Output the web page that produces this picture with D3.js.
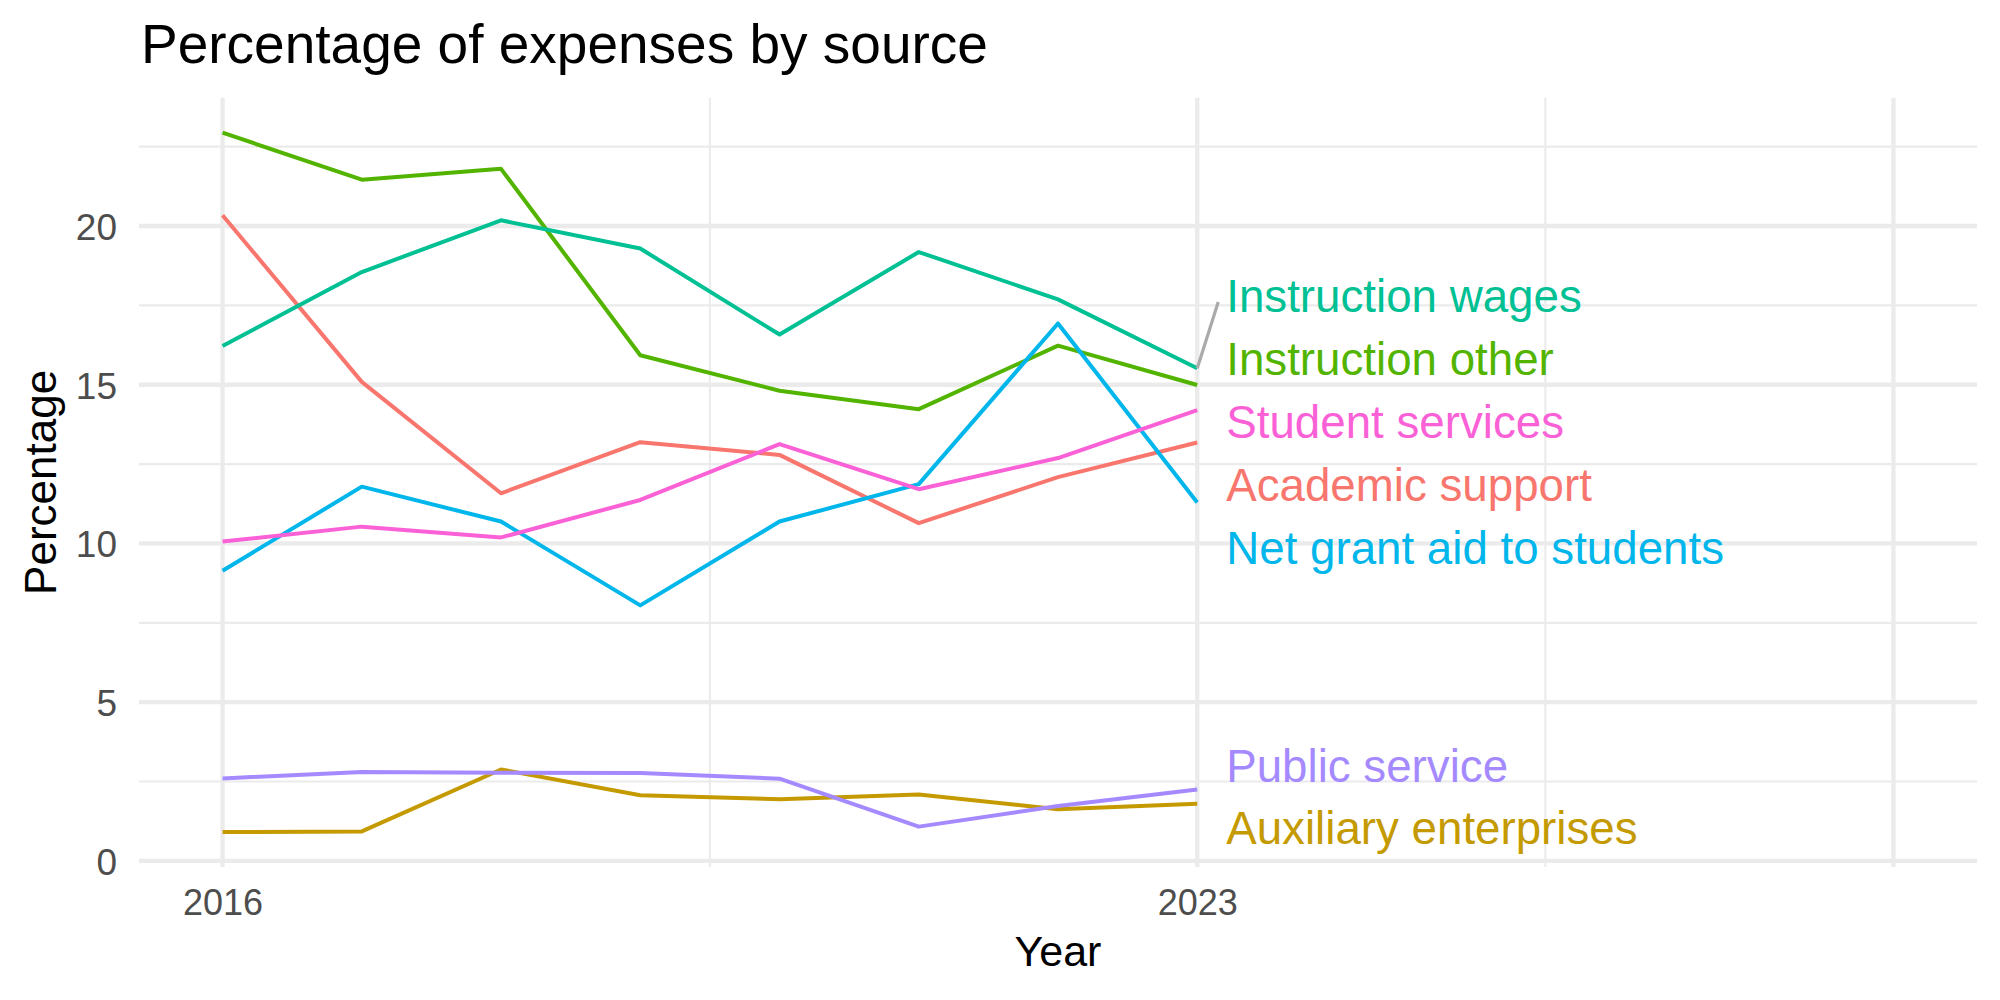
<!DOCTYPE html>
<html>
<head>
<meta charset="utf-8">
<script src="https://cdn.jsdelivr.net/npm/d3@7"></script>
<style>
  body { margin: 0; background: #fff; }
  svg { display: block; }
</style>
</head>
<body>
<svg></svg>
<script>
let width = 2000, height = 1000;

// data
let years = [2016, 2017, 2018, 2019, 2020, 2021, 2022, 2023];
let categories = ["Academic support", "Auxiliary enterprises", "Instruction other",
    "Instruction wages", "Net grant aid to students", "Public service", "Student services"];
let academicSupport  = [20.34, 15.09, 11.58, 13.19, 12.79, 10.64, 12.09, 13.18];
let auxiliary        = [0.91, 0.93, 2.88, 2.07, 1.94, 2.09, 1.63, 1.80];
let instructionOther = [22.94, 21.46, 21.80, 15.93, 14.81, 14.23, 16.23, 14.99];
let instructionWages = [16.22, 18.55, 20.18, 19.29, 16.58, 19.18, 17.69, 15.52];
let netGrantAid      = [9.14, 11.79, 10.69, 8.05, 10.69, 11.87, 16.93, 11.29];
let publicService    = [2.60, 2.80, 2.78, 2.77, 2.59, 1.08, 1.73, 2.25];
let studentServices  = [10.06, 10.53, 10.19, 11.37, 13.13, 11.71, 12.69, 14.20];
let seriesValues = [academicSupport, auxiliary, instructionOther, instructionWages,
    netGrantAid, publicService, studentServices];
let colors = ["#F8766D", "#C49A00", "#53B400", "#00C094", "#00B6EB", "#A58AFF", "#FB61D7"];

let yTicks = [0, 5, 10, 15, 20];
let yMinor = [2.5, 7.5, 12.5, 17.5, 22.5];
let xTicks = [2016, 2023, 2028];
let xTickLabels = ["2016", "2023", ""];
let xMinor = [2019.5, 2025.5];
let xLimitMax = 2028;   // room kept on the right for the labels

let font = "'Liberation Sans', Arial, Helvetica, sans-serif";

let svg = d3.select("svg")
    .attr("width", width)
    .attr("height", height)
    .attr("viewBox", "0 0 " + width + " " + height);

// panel
let pLeft = 139, pRight = 1977, pTop = 97.7, pBottom = 867;

let series = categories.map((c, i) => ({
    name: c, color: colors[i],
    values: years.map((y, j) => ({year: y, value: seriesValues[i][j]}))
}));

let xMin = d3.min(years), xMax = xLimitMax;
let xPad = (xMax - xMin) * 0.05;
let x = d3.scaleLinear().domain([xMin - xPad, xMax + xPad]).range([pLeft, pRight]);

let allVals = seriesValues.flat();
let yMin = d3.min(allVals), yMax = d3.max(allVals);
let yPad = (yMax - yMin) * 0.05;
let y = d3.scaleLinear().domain([yMin - yPad, yMax + yPad]).range([pBottom, pTop]);

// grid
let grid = svg.append("g").attr("id", "grid");
grid.selectAll("line.ymin").data(yMinor).enter().append("line")
    .attr("x1", pLeft).attr("x2", pRight)
    .attr("y1", d => y(d)).attr("y2", d => y(d))
    .attr("stroke", "#EBEBEB").attr("stroke-width", 2.1);
grid.selectAll("line.xmin").data(xMinor).enter().append("line")
    .attr("y1", pTop).attr("y2", pBottom)
    .attr("x1", d => x(d)).attr("x2", d => x(d))
    .attr("stroke", "#EBEBEB").attr("stroke-width", 2.1);
grid.selectAll("line.ymaj").data(yTicks).enter().append("line")
    .attr("x1", pLeft).attr("x2", pRight)
    .attr("y1", d => y(d)).attr("y2", d => y(d))
    .attr("stroke", "#EBEBEB").attr("stroke-width", 4.3);
grid.selectAll("line.xmaj").data(xTicks).enter().append("line")
    .attr("y1", pTop).attr("y2", pBottom)
    .attr("x1", d => x(d)).attr("x2", d => x(d))
    .attr("stroke", "#EBEBEB").attr("stroke-width", 4.3);

// axes
let yAxis = svg.append("g")
    .attr("transform", "translate(" + pLeft + ",0)")
    .call(d3.axisLeft(y).tickValues(yTicks).tickSize(0).tickPadding(22));
yAxis.select(".domain").remove();
yAxis.selectAll("text")
    .attr("dy", "0.36em")
    .attr("fill", "#4D4D4D")
    .style("font-family", font)
    .style("font-size", "37px");

let xAxis = svg.append("g")
    .attr("transform", "translate(0," + pBottom + ")")
    .call(d3.axisBottom(x).tickValues(xTicks).tickFormat((d, i) => xTickLabels[i])
        .tickSize(0).tickPadding(22));
xAxis.select(".domain").remove();
xAxis.selectAll("text")
    .attr("fill", "#4D4D4D")
    .style("font-family", font)
    .style("font-size", "36px");

// lines
let line = d3.line().x(d => x(d.year)).y(d => y(d.value));
svg.append("g").attr("id", "lines")
    .selectAll("path")
    .data(series)
    .enter()
    .append("path")
    .attr("d", d => line(d.values))
    .attr("fill", "none")
    .attr("stroke", d => d.color)
    .attr("stroke-width", 4)
    .attr("stroke-linejoin", "round");

// end labels, pushed apart so they don't overlap
let lastYear = years[years.length - 1];
let spacing = 62.8;
let labels = series.map(s => ({
    name: s.name, color: s.color,
    py: y(s.values[s.values.length - 1].value)
})).sort((a, b) => a.py - b.py);

let clusters = labels.map(l => ({items: [l], mean: l.py}));
let merged = true;
while (merged) {
    merged = false;
    for (let i = 0; i < clusters.length - 1; i++) {
        let a = clusters[i], b = clusters[i + 1];
        let aBottom = a.mean + (a.items.length - 1) * spacing / 2;
        let bTop = b.mean - (b.items.length - 1) * spacing / 2;
        if (bTop - aBottom < spacing) {
            let items = a.items.concat(b.items);
            clusters.splice(i, 2, {items: items, mean: d3.mean(items, d => d.py)});
            merged = true;
            break;
        }
    }
}
clusters.forEach(c => {
    c.items.forEach((l, k) => {
        l.ly = c.mean + (k - (c.items.length - 1) / 2) * spacing;
    });
});

let labelX = x(lastYear) + 29;
let fs = 45.7;

labels.forEach(l => {
    let ex = labelX - 8;
    let ey = l.py > l.ly ? l.ly + 6 : l.ly - 6;
    let len = Math.hypot(ex - x(lastYear), ey - l.py);
    if (len > 50) {
        svg.append("line")
            .attr("x1", x(lastYear)).attr("y1", l.py)
            .attr("x2", ex).attr("y2", ey)
            .attr("stroke", "#AAAAAA")
            .attr("stroke-width", 3.2);
    }
});

svg.append("g").attr("id", "labels")
    .selectAll("text")
    .data(labels)
    .enter()
    .append("text")
    .attr("x", labelX)
    .attr("y", d => d.ly + 0.716 * fs / 2)
    .attr("fill", d => d.color)
    .style("font-family", font)
    .style("font-size", fs + "px")
    .text(d => d.name);

// titles
svg.append("text")
    .attr("x", 141).attr("y", 63)
    .style("font-family", font).style("font-size", "55px")
    .attr("fill", "#000")
    .text("Percentage of expenses by source");

svg.append("text")
    .attr("x", (pLeft + pRight) / 2).attr("y", 966)
    .attr("text-anchor", "middle")
    .style("font-family", font).style("font-size", "43px")
    .text("Year");

svg.append("text")
    .attr("transform", "translate(56," + (pTop + pBottom) / 2 + ") rotate(-90)")
    .attr("text-anchor", "middle")
    .style("font-family", font).style("font-size", "44px")
    .text("Percentage");
</script>
</body>
</html>
